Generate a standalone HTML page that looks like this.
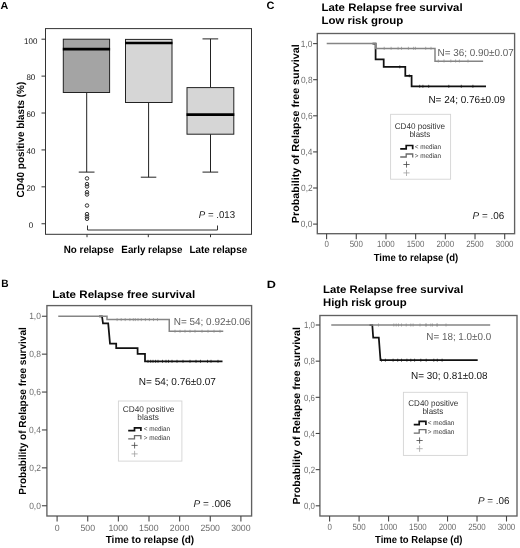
<!DOCTYPE html>
<html><head><meta charset="utf-8"><style>
html,body{margin:0;padding:0;background:#fff;}
svg{display:block;will-change:transform;filter:blur(0.3px);}
svg text{font-family:"Liberation Sans", sans-serif;text-rendering:geometricPrecision;}
</style></head><body>
<svg width="520" height="548" viewBox="0 0 520 548">
<rect x="0" y="0" width="520" height="548" fill="#fff"/>
<text transform="translate(0.53,9) scale(1.0433,1)" font-size="10.3" fill="#000" xml:space="preserve"><tspan font-weight="bold" font-style="normal">A</tspan></text>
<rect x="45.5" y="28.6" width="206" height="205.7" fill="none" stroke="#333" stroke-width="1"/>
<line x1="41.5" y1="39.2" x2="45.5" y2="39.2" stroke="#333" stroke-width="1"/>
<text transform="translate(24.12,43.5) scale(0.9700,1)" font-size="8.2" font-weight="normal" fill="#111">100</text>
<line x1="41.5" y1="76.11" x2="45.5" y2="76.11" stroke="#333" stroke-width="1"/>
<text transform="translate(26.45,80.41) scale(0.9700,1)" font-size="8.2" font-weight="normal" fill="#111">80</text>
<line x1="41.5" y1="113.02" x2="45.5" y2="113.02" stroke="#333" stroke-width="1"/>
<text transform="translate(26.43,117.32) scale(0.9700,1)" font-size="8.2" font-weight="normal" fill="#111">60</text>
<line x1="41.5" y1="149.93" x2="45.5" y2="149.93" stroke="#333" stroke-width="1"/>
<text transform="translate(26.55,154.23) scale(0.9700,1)" font-size="8.2" font-weight="normal" fill="#111">40</text>
<line x1="41.5" y1="186.84" x2="45.5" y2="186.84" stroke="#333" stroke-width="1"/>
<text transform="translate(26.43,191.14) scale(0.9700,1)" font-size="8.2" font-weight="normal" fill="#111">20</text>
<line x1="41.5" y1="223.75" x2="45.5" y2="223.75" stroke="#333" stroke-width="1"/>
<text transform="translate(28.67,228.05) scale(0.9700,1)" font-size="8.2" font-weight="normal" fill="#111">0</text>
<text transform="translate(23.5,197.4) rotate(-90) scale(0.9671,1)" font-size="10.3" fill="#000" xml:space="preserve"><tspan font-weight="bold" font-style="normal">CD40 positive blasts (%)</tspan></text>
<line x1="86.7" y1="92.5" x2="86.7" y2="172.1" stroke="#222" stroke-width="1"/>
<line x1="78.75" y1="172.1" x2="94.5" y2="172.1" stroke="#222" stroke-width="1"/>
<line x1="148.6" y1="102.5" x2="148.6" y2="177.2" stroke="#222" stroke-width="1"/>
<line x1="140.8" y1="177.2" x2="156.3" y2="177.2" stroke="#222" stroke-width="1"/>
<line x1="210.5" y1="38.9" x2="210.5" y2="87.6" stroke="#222" stroke-width="1"/>
<line x1="202.5" y1="38.9" x2="218.2" y2="38.9" stroke="#222" stroke-width="1"/>
<line x1="210.5" y1="134.2" x2="210.5" y2="172.1" stroke="#222" stroke-width="1"/>
<line x1="202.5" y1="172.1" x2="218.2" y2="172.1" stroke="#222" stroke-width="1"/>
<rect x="63.3" y="39.2" width="46.3" height="53.3" fill="#a4a4a4" stroke="#222" stroke-width="1"/>
<line x1="62.8" y1="49.1" x2="110.1" y2="49.1" stroke="#000" stroke-width="2.6"/>
<rect x="125.5" y="39.4" width="46.5" height="63.1" fill="#d6d6d6" stroke="#222" stroke-width="1"/>
<line x1="125" y1="43" x2="172.5" y2="43" stroke="#000" stroke-width="2.6"/>
<rect x="187" y="87.6" width="46.8" height="46.6" fill="#d6d6d6" stroke="#222" stroke-width="1"/>
<line x1="186.5" y1="114.6" x2="234.3" y2="114.6" stroke="#000" stroke-width="2.6"/>
<circle cx="87" cy="178.4" r="1.75" fill="none" stroke="#222" stroke-width="0.9"/>
<circle cx="87" cy="184.1" r="1.75" fill="none" stroke="#222" stroke-width="0.9"/>
<circle cx="87" cy="186.5" r="1.75" fill="none" stroke="#222" stroke-width="0.9"/>
<circle cx="87" cy="192.2" r="1.75" fill="none" stroke="#222" stroke-width="0.9"/>
<circle cx="87" cy="194.5" r="1.75" fill="none" stroke="#222" stroke-width="0.9"/>
<circle cx="87" cy="205.5" r="1.75" fill="none" stroke="#222" stroke-width="0.9"/>
<circle cx="87" cy="214.1" r="1.75" fill="none" stroke="#222" stroke-width="0.9"/>
<circle cx="87" cy="216.5" r="1.75" fill="none" stroke="#222" stroke-width="0.9"/>
<circle cx="87" cy="218.8" r="1.75" fill="none" stroke="#222" stroke-width="0.9"/>
<polyline points="87.5,225.5 87.5,230 217.5,230 217.5,225.5" fill="none" stroke="#333" stroke-width="1" stroke-linejoin="miter" stroke-linecap="butt"/>
<line x1="87" y1="234.3" x2="87" y2="237.2" stroke="#333" stroke-width="1"/>
<line x1="148.3" y1="234.3" x2="148.3" y2="237.2" stroke="#333" stroke-width="1"/>
<line x1="210.5" y1="234.3" x2="210.5" y2="237.2" stroke="#333" stroke-width="1"/>
<text transform="translate(63.76,252.8) scale(0.9443,1)" font-size="10.4" fill="#000" xml:space="preserve"><tspan font-weight="bold" font-style="normal">No relapse</tspan></text>
<text transform="translate(121.36,252.8) scale(0.9435,1)" font-size="10.4" fill="#000" xml:space="preserve"><tspan font-weight="bold" font-style="normal">Early relapse</tspan></text>
<text transform="translate(189.56,252.8) scale(0.9490,1)" font-size="10.4" fill="#000" xml:space="preserve"><tspan font-weight="bold" font-style="normal">Late relapse</tspan></text>
<text transform="translate(198.81,218.3) scale(0.9794,1)" font-size="9.9" fill="#222" xml:space="preserve"><tspan font-weight="normal" font-style="italic">P</tspan><tspan font-weight="normal" font-style="normal"> = .013</tspan></text>
<text transform="translate(1.34,287.2) scale(0.9589,1)" font-size="10.6" fill="#000" xml:space="preserve"><tspan font-weight="bold" font-style="normal">B</tspan></text>
<text transform="translate(52.25,298.4) scale(1.0727,1)" font-size="10.8" fill="#000" xml:space="preserve"><tspan font-weight="bold" font-style="normal">Late Relapse free survival</tspan></text>
<rect x="46.9" y="305.6" width="204.7" height="210.4" fill="none" stroke="#606060" stroke-width="1.35"/>
<line x1="41.9" y1="505.75" x2="46.9" y2="505.75" stroke="#444" stroke-width="1.1"/>
<text transform="translate(29.13,508.95) scale(0.9300,1)" font-size="9.1" font-weight="normal" fill="#6c6c6c">0,0</text>
<line x1="41.9" y1="467.85" x2="46.9" y2="467.85" stroke="#444" stroke-width="1.1"/>
<text transform="translate(29.26,471.05) scale(0.9300,1)" font-size="9.1" font-weight="normal" fill="#6c6c6c">0,2</text>
<line x1="41.9" y1="429.95" x2="46.9" y2="429.95" stroke="#444" stroke-width="1.1"/>
<text transform="translate(29.09,433.15) scale(0.9300,1)" font-size="9.1" font-weight="normal" fill="#6c6c6c">0,4</text>
<line x1="41.9" y1="392.05" x2="46.9" y2="392.05" stroke="#444" stroke-width="1.1"/>
<text transform="translate(29.17,395.25) scale(0.9300,1)" font-size="9.1" font-weight="normal" fill="#6c6c6c">0,6</text>
<line x1="41.9" y1="354.15" x2="46.9" y2="354.15" stroke="#444" stroke-width="1.1"/>
<text transform="translate(29.17,357.35) scale(0.9300,1)" font-size="9.1" font-weight="normal" fill="#6c6c6c">0,8</text>
<line x1="41.9" y1="316.25" x2="46.9" y2="316.25" stroke="#444" stroke-width="1.1"/>
<text transform="translate(29.13,319.45) scale(0.9300,1)" font-size="9.1" font-weight="normal" fill="#6c6c6c">1,0</text>
<line x1="57.1" y1="516" x2="57.1" y2="521.5" stroke="#444" stroke-width="1.1"/>
<text transform="translate(54.65,530.5) scale(0.9600,1)" font-size="9.1" font-weight="normal" fill="#6c6c6c">0</text>
<line x1="87.73" y1="516" x2="87.73" y2="521.5" stroke="#444" stroke-width="1.1"/>
<text transform="translate(80.44,530.5) scale(0.9600,1)" font-size="9.1" font-weight="normal" fill="#6c6c6c">500</text>
<line x1="118.37" y1="516" x2="118.37" y2="521.5" stroke="#444" stroke-width="1.1"/>
<text transform="translate(108.47,530.5) scale(0.9600,1)" font-size="9.1" font-weight="normal" fill="#6c6c6c">1000</text>
<line x1="149" y1="516" x2="149" y2="521.5" stroke="#444" stroke-width="1.1"/>
<text transform="translate(139.11,530.5) scale(0.9600,1)" font-size="9.1" font-weight="normal" fill="#6c6c6c">1500</text>
<line x1="179.63" y1="516" x2="179.63" y2="521.5" stroke="#444" stroke-width="1.1"/>
<text transform="translate(169.85,530.5) scale(0.9600,1)" font-size="9.1" font-weight="normal" fill="#6c6c6c">2000</text>
<line x1="210.27" y1="516" x2="210.27" y2="521.5" stroke="#444" stroke-width="1.1"/>
<text transform="translate(200.48,530.5) scale(0.9600,1)" font-size="9.1" font-weight="normal" fill="#6c6c6c">2500</text>
<line x1="240.9" y1="516" x2="240.9" y2="521.5" stroke="#444" stroke-width="1.1"/>
<text transform="translate(231.16,530.5) scale(0.9600,1)" font-size="9.1" font-weight="normal" fill="#6c6c6c">3000</text>
<text transform="translate(105.7,543.3) scale(0.9681,1)" font-size="10.3" fill="#000" xml:space="preserve"><tspan font-weight="bold" font-style="normal">Time to relapse (d)</tspan></text>
<text transform="translate(25.8,494.65) rotate(-90) scale(0.9756,1)" font-size="10.3" fill="#000" xml:space="preserve"><tspan font-weight="bold" font-style="normal">Probability of Relapse free survival</tspan></text>
<polyline points="99,316.25 102,316.25 103,323.4 108.2,323.4 110,343.6 116.2,343.6 116.2,348 137.6,348 137.6,353.8 145,353.8 145,361.3 222.5,361.3" fill="none" stroke="#111" stroke-width="1.75" stroke-linejoin="miter" stroke-linecap="butt"/>
<line x1="148" y1="359.8" x2="148" y2="362.8" stroke="#111" stroke-width="0.7"/>
<line x1="150.7" y1="359.8" x2="150.7" y2="362.8" stroke="#111" stroke-width="0.7"/>
<line x1="153" y1="359.8" x2="153" y2="362.8" stroke="#111" stroke-width="0.7"/>
<line x1="155.6" y1="359.8" x2="155.6" y2="362.8" stroke="#111" stroke-width="0.7"/>
<line x1="158" y1="359.8" x2="158" y2="362.8" stroke="#111" stroke-width="0.7"/>
<line x1="162.5" y1="359.8" x2="162.5" y2="362.8" stroke="#111" stroke-width="0.7"/>
<line x1="166" y1="359.8" x2="166" y2="362.8" stroke="#111" stroke-width="0.7"/>
<line x1="168.5" y1="359.8" x2="168.5" y2="362.8" stroke="#111" stroke-width="0.7"/>
<line x1="172" y1="359.8" x2="172" y2="362.8" stroke="#111" stroke-width="0.7"/>
<line x1="177" y1="359.8" x2="177" y2="362.8" stroke="#111" stroke-width="0.7"/>
<line x1="183" y1="359.8" x2="183" y2="362.8" stroke="#111" stroke-width="0.7"/>
<line x1="190" y1="359.8" x2="190" y2="362.8" stroke="#111" stroke-width="0.7"/>
<line x1="196" y1="359.8" x2="196" y2="362.8" stroke="#111" stroke-width="0.7"/>
<line x1="200.5" y1="359.8" x2="200.5" y2="362.8" stroke="#111" stroke-width="0.7"/>
<line x1="207.5" y1="359.8" x2="207.5" y2="362.8" stroke="#111" stroke-width="0.7"/>
<line x1="211" y1="359.8" x2="211" y2="362.8" stroke="#111" stroke-width="0.7"/>
<line x1="218" y1="359.8" x2="218" y2="362.8" stroke="#111" stroke-width="0.7"/>
<polyline points="58.25,316.25 107,316.25 107,319.6 169.25,319.6 169.25,331.25 223.25,331.25" fill="none" stroke="#858585" stroke-width="1.5" stroke-linejoin="miter" stroke-linecap="butt"/>
<line x1="117.1" y1="318.1" x2="117.1" y2="321.1" stroke="#8a8a8a" stroke-width="0.7"/>
<line x1="121.2" y1="318.1" x2="121.2" y2="321.1" stroke="#8a8a8a" stroke-width="0.7"/>
<line x1="125.2" y1="318.1" x2="125.2" y2="321.1" stroke="#8a8a8a" stroke-width="0.7"/>
<line x1="129.9" y1="318.1" x2="129.9" y2="321.1" stroke="#8a8a8a" stroke-width="0.7"/>
<line x1="133.3" y1="318.1" x2="133.3" y2="321.1" stroke="#8a8a8a" stroke-width="0.7"/>
<line x1="135.3" y1="318.1" x2="135.3" y2="321.1" stroke="#8a8a8a" stroke-width="0.7"/>
<line x1="138" y1="318.1" x2="138" y2="321.1" stroke="#8a8a8a" stroke-width="0.7"/>
<line x1="141.3" y1="318.1" x2="141.3" y2="321.1" stroke="#8a8a8a" stroke-width="0.7"/>
<line x1="145.4" y1="318.1" x2="145.4" y2="321.1" stroke="#8a8a8a" stroke-width="0.7"/>
<line x1="149.4" y1="318.1" x2="149.4" y2="321.1" stroke="#8a8a8a" stroke-width="0.7"/>
<line x1="153.5" y1="318.1" x2="153.5" y2="321.1" stroke="#8a8a8a" stroke-width="0.7"/>
<line x1="157.5" y1="318.1" x2="157.5" y2="321.1" stroke="#8a8a8a" stroke-width="0.7"/>
<line x1="175" y1="329.75" x2="175" y2="332.75" stroke="#8a8a8a" stroke-width="0.7"/>
<line x1="180" y1="329.75" x2="180" y2="332.75" stroke="#8a8a8a" stroke-width="0.7"/>
<line x1="185" y1="329.75" x2="185" y2="332.75" stroke="#8a8a8a" stroke-width="0.7"/>
<line x1="190" y1="329.75" x2="190" y2="332.75" stroke="#8a8a8a" stroke-width="0.7"/>
<line x1="195" y1="329.75" x2="195" y2="332.75" stroke="#8a8a8a" stroke-width="0.7"/>
<line x1="202" y1="329.75" x2="202" y2="332.75" stroke="#8a8a8a" stroke-width="0.7"/>
<line x1="208" y1="329.75" x2="208" y2="332.75" stroke="#8a8a8a" stroke-width="0.7"/>
<line x1="214" y1="329.75" x2="214" y2="332.75" stroke="#8a8a8a" stroke-width="0.7"/>
<line x1="220" y1="329.75" x2="220" y2="332.75" stroke="#8a8a8a" stroke-width="0.7"/>
<text transform="translate(173.7,325) scale(0.9778,1)" font-size="10.2" fill="#606060" xml:space="preserve"><tspan font-weight="normal" font-style="normal">N= 54; 0.92±0.06</tspan></text>
<text transform="translate(138.8,385) scale(0.9830,1)" font-size="10.2" fill="#111" xml:space="preserve"><tspan font-weight="normal" font-style="normal">N= 54; 0.76±0.07</tspan></text>
<rect x="118.4" y="401" width="63.5" height="60.1" fill="#fff" stroke="#d4d4d4" stroke-width="0.9"/>
<text transform="translate(122.68,412.1) scale(0.9924,1)" font-size="8.4" fill="#333" xml:space="preserve"><tspan font-weight="normal" font-style="normal">CD40 positive</tspan></text>
<text transform="translate(137.36,419.8) scale(0.9865,1)" font-size="8.4" fill="#333" xml:space="preserve"><tspan font-weight="normal" font-style="normal">blasts</tspan></text>
<polyline points="128.2,430.7 134.5,430.7 134.5,427.8 140.9,427.8 140.9,431.1" fill="none" stroke="#111" stroke-width="1.7" stroke-linejoin="miter" stroke-linecap="butt"/>
<polyline points="128.2,438.8 134.5,438.8 134.5,435.7 140.9,435.7 140.9,439.2" fill="none" stroke="#6a6a6a" stroke-width="1.3" stroke-linejoin="miter" stroke-linecap="butt"/>
<text transform="translate(143.68,431.1) scale(0.9390,1)" font-size="6.8" fill="#333" xml:space="preserve"><tspan font-weight="normal" font-style="normal">&lt; median</tspan></text>
<text transform="translate(143.68,439.5) scale(0.9390,1)" font-size="6.8" fill="#333" xml:space="preserve"><tspan font-weight="normal" font-style="normal">&gt; median</tspan></text>
<line x1="131.5" y1="445.4" x2="137.7" y2="445.4" stroke="#444" stroke-width="0.8"/>
<line x1="134.6" y1="442.3" x2="134.6" y2="448.5" stroke="#444" stroke-width="0.8"/>
<line x1="131.5" y1="453.9" x2="137.7" y2="453.9" stroke="#a0a0a0" stroke-width="0.8"/>
<line x1="134.6" y1="450.8" x2="134.6" y2="457" stroke="#a0a0a0" stroke-width="0.8"/>
<text transform="translate(193.5,507) scale(1.0150,1)" font-size="9.9" fill="#222" xml:space="preserve"><tspan font-weight="normal" font-style="italic">P</tspan><tspan font-weight="normal" font-style="normal"> = .006</tspan></text>
<text transform="translate(266.56,8.8) scale(1.0370,1)" font-size="10.6" fill="#000" xml:space="preserve"><tspan font-weight="bold" font-style="normal">C</tspan></text>
<text transform="translate(321.46,10.7) scale(1.0591,1)" font-size="10.8" fill="#000" xml:space="preserve"><tspan font-weight="bold" font-style="normal">Late Relapse free survival</tspan></text>
<text transform="translate(321.46,24.2) scale(1.0571,1)" font-size="10.8" fill="#000" xml:space="preserve"><tspan font-weight="bold" font-style="normal">Low risk group</tspan></text>
<rect x="317.3" y="33.5" width="197.3" height="200.2" fill="none" stroke="#606060" stroke-width="1.35"/>
<line x1="313.1" y1="224.1" x2="317.3" y2="224.1" stroke="#444" stroke-width="1.1"/>
<text transform="translate(300.86,227.3) scale(0.9200,1)" font-size="9.1" font-weight="normal" fill="#6c6c6c">0,0</text>
<line x1="313.1" y1="188" x2="317.3" y2="188" stroke="#444" stroke-width="1.1"/>
<text transform="translate(300.98,191.2) scale(0.9200,1)" font-size="9.1" font-weight="normal" fill="#6c6c6c">0,2</text>
<line x1="313.1" y1="151.9" x2="317.3" y2="151.9" stroke="#444" stroke-width="1.1"/>
<text transform="translate(300.81,155.1) scale(0.9200,1)" font-size="9.1" font-weight="normal" fill="#6c6c6c">0,4</text>
<line x1="313.1" y1="115.8" x2="317.3" y2="115.8" stroke="#444" stroke-width="1.1"/>
<text transform="translate(300.9,119) scale(0.9200,1)" font-size="9.1" font-weight="normal" fill="#6c6c6c">0,6</text>
<line x1="313.1" y1="79.7" x2="317.3" y2="79.7" stroke="#444" stroke-width="1.1"/>
<text transform="translate(300.9,82.9) scale(0.9200,1)" font-size="9.1" font-weight="normal" fill="#6c6c6c">0,8</text>
<line x1="313.1" y1="43.6" x2="317.3" y2="43.6" stroke="#444" stroke-width="1.1"/>
<text transform="translate(300.86,46.8) scale(0.9200,1)" font-size="9.1" font-weight="normal" fill="#6c6c6c">1,0</text>
<line x1="326.6" y1="233.7" x2="326.6" y2="239.2" stroke="#444" stroke-width="1.1"/>
<text transform="translate(324.38,247.2) scale(0.8700,1)" font-size="9.1" font-weight="normal" fill="#6c6c6c">0</text>
<line x1="356.28" y1="233.7" x2="356.28" y2="239.2" stroke="#444" stroke-width="1.1"/>
<text transform="translate(349.67,247.2) scale(0.8700,1)" font-size="9.1" font-weight="normal" fill="#6c6c6c">500</text>
<line x1="385.97" y1="233.7" x2="385.97" y2="239.2" stroke="#444" stroke-width="1.1"/>
<text transform="translate(377,247.2) scale(0.8700,1)" font-size="9.1" font-weight="normal" fill="#6c6c6c">1000</text>
<line x1="415.65" y1="233.7" x2="415.65" y2="239.2" stroke="#444" stroke-width="1.1"/>
<text transform="translate(406.68,247.2) scale(0.8700,1)" font-size="9.1" font-weight="normal" fill="#6c6c6c">1500</text>
<line x1="445.33" y1="233.7" x2="445.33" y2="239.2" stroke="#444" stroke-width="1.1"/>
<text transform="translate(436.47,247.2) scale(0.8700,1)" font-size="9.1" font-weight="normal" fill="#6c6c6c">2000</text>
<line x1="475.02" y1="233.7" x2="475.02" y2="239.2" stroke="#444" stroke-width="1.1"/>
<text transform="translate(466.15,247.2) scale(0.8700,1)" font-size="9.1" font-weight="normal" fill="#6c6c6c">2500</text>
<line x1="504.7" y1="233.7" x2="504.7" y2="239.2" stroke="#444" stroke-width="1.1"/>
<text transform="translate(495.87,247.2) scale(0.8700,1)" font-size="9.1" font-weight="normal" fill="#6c6c6c">3000</text>
<text transform="translate(373.7,260.5) scale(0.9241,1)" font-size="10.3" fill="#000" xml:space="preserve"><tspan font-weight="bold" font-style="normal">Time to relapse (d)</tspan></text>
<text transform="translate(298.5,223.2) rotate(-90) scale(1.0419,1)" font-size="10.3" fill="#000" xml:space="preserve"><tspan font-weight="bold" font-style="normal">Probability of Relapse free survival</tspan></text>
<polyline points="372.5,43.6 375.6,43.6 375.6,59.4 383.7,59.4 383.7,66.9 405.3,66.9 405.3,75.8 411.6,75.8 411.6,86.3 486,86.3" fill="none" stroke="#111" stroke-width="1.75" stroke-linejoin="miter" stroke-linecap="butt"/>
<line x1="399.8" y1="65.4" x2="399.8" y2="68.4" stroke="#111" stroke-width="0.7"/>
<line x1="409.3" y1="74.3" x2="409.3" y2="77.3" stroke="#111" stroke-width="0.7"/>
<line x1="419.7" y1="84.8" x2="419.7" y2="87.8" stroke="#111" stroke-width="0.7"/>
<line x1="422.9" y1="84.8" x2="422.9" y2="87.8" stroke="#111" stroke-width="0.7"/>
<line x1="428.7" y1="84.8" x2="428.7" y2="87.8" stroke="#111" stroke-width="0.7"/>
<line x1="448.8" y1="84.8" x2="448.8" y2="87.8" stroke="#111" stroke-width="0.7"/>
<line x1="461.3" y1="84.8" x2="461.3" y2="87.8" stroke="#111" stroke-width="0.7"/>
<line x1="472.9" y1="84.8" x2="472.9" y2="87.8" stroke="#111" stroke-width="0.7"/>
<polyline points="326.7,43.6 375.6,43.6 375.6,48.6 435,48.6 435,61.2 483.1,61.2" fill="none" stroke="#858585" stroke-width="1.5" stroke-linejoin="miter" stroke-linecap="butt"/>
<line x1="384.2" y1="46.8" x2="384.2" y2="49.8" stroke="#8a8a8a" stroke-width="0.7"/>
<line x1="391.1" y1="46.8" x2="391.1" y2="49.8" stroke="#8a8a8a" stroke-width="0.7"/>
<line x1="398.1" y1="46.8" x2="398.1" y2="49.8" stroke="#8a8a8a" stroke-width="0.7"/>
<line x1="401.5" y1="46.8" x2="401.5" y2="49.8" stroke="#8a8a8a" stroke-width="0.7"/>
<line x1="408.4" y1="46.8" x2="408.4" y2="49.8" stroke="#8a8a8a" stroke-width="0.7"/>
<line x1="413.6" y1="46.8" x2="413.6" y2="49.8" stroke="#8a8a8a" stroke-width="0.7"/>
<line x1="415.4" y1="46.8" x2="415.4" y2="49.8" stroke="#8a8a8a" stroke-width="0.7"/>
<line x1="425.7" y1="46.8" x2="425.7" y2="49.8" stroke="#8a8a8a" stroke-width="0.7"/>
<line x1="431" y1="46.8" x2="431" y2="49.8" stroke="#8a8a8a" stroke-width="0.7"/>
<line x1="438.3" y1="59.5" x2="438.3" y2="62.5" stroke="#8a8a8a" stroke-width="0.7"/>
<line x1="444" y1="59.5" x2="444" y2="62.5" stroke="#8a8a8a" stroke-width="0.7"/>
<line x1="450.8" y1="59.5" x2="450.8" y2="62.5" stroke="#8a8a8a" stroke-width="0.7"/>
<line x1="455.6" y1="59.5" x2="455.6" y2="62.5" stroke="#8a8a8a" stroke-width="0.7"/>
<line x1="459.4" y1="59.5" x2="459.4" y2="62.5" stroke="#8a8a8a" stroke-width="0.7"/>
<line x1="468" y1="59.5" x2="468" y2="62.5" stroke="#8a8a8a" stroke-width="0.7"/>
<text transform="translate(437.51,56) scale(0.9726,1)" font-size="10.2" fill="#606060" xml:space="preserve"><tspan font-weight="normal" font-style="normal">N= 36; 0.90±0.07</tspan></text>
<text transform="translate(428.4,103) scale(0.9772,1)" font-size="10.2" fill="#111" xml:space="preserve"><tspan font-weight="normal" font-style="normal">N= 24; 0.76±0.09</tspan></text>
<rect x="390.6" y="114.3" width="60" height="64.9" fill="#fff" stroke="#d4d4d4" stroke-width="0.9"/>
<text transform="translate(394.69,128.8) scale(0.9671,1)" font-size="8.4" fill="#333" xml:space="preserve"><tspan font-weight="normal" font-style="normal">CD40 positive</tspan></text>
<text transform="translate(409.38,136.9) scale(0.9581,1)" font-size="8.4" fill="#333" xml:space="preserve"><tspan font-weight="normal" font-style="normal">blasts</tspan></text>
<polyline points="400.2,148.8 406.2,148.8 406.2,145.5 412.7,145.5 412.7,149.2" fill="none" stroke="#111" stroke-width="1.7" stroke-linejoin="miter" stroke-linecap="butt"/>
<polyline points="400.2,157 406.2,157 406.2,154 412.7,154 412.7,157.4" fill="none" stroke="#6a6a6a" stroke-width="1.3" stroke-linejoin="miter" stroke-linecap="butt"/>
<text transform="translate(414.78,149.1) scale(0.9353,1)" font-size="6.8" fill="#333" xml:space="preserve"><tspan font-weight="normal" font-style="normal">&lt; median</tspan></text>
<text transform="translate(414.78,157.9) scale(0.9353,1)" font-size="6.8" fill="#333" xml:space="preserve"><tspan font-weight="normal" font-style="normal">&gt; median</tspan></text>
<line x1="403.4" y1="164.5" x2="409.6" y2="164.5" stroke="#444" stroke-width="0.8"/>
<line x1="406.5" y1="161.4" x2="406.5" y2="167.6" stroke="#444" stroke-width="0.8"/>
<line x1="403.4" y1="172.9" x2="409.6" y2="172.9" stroke="#a0a0a0" stroke-width="0.8"/>
<line x1="406.5" y1="169.8" x2="406.5" y2="176" stroke="#a0a0a0" stroke-width="0.8"/>
<text transform="translate(472.6,218.8) scale(1.0014,1)" font-size="9.9" fill="#222" xml:space="preserve"><tspan font-weight="normal" font-style="italic">P</tspan><tspan font-weight="normal" font-style="normal"> = .06</tspan></text>
<text transform="translate(266.68,287.5) scale(1.1965,1)" font-size="10.6" fill="#000" xml:space="preserve"><tspan font-weight="bold" font-style="normal">D</tspan></text>
<text transform="translate(322.96,293.3) scale(1.0538,1)" font-size="10.8" fill="#000" xml:space="preserve"><tspan font-weight="bold" font-style="normal">Late Relapse free survival</tspan></text>
<text transform="translate(322.96,306.3) scale(1.0486,1)" font-size="10.8" fill="#000" xml:space="preserve"><tspan font-weight="bold" font-style="normal">High risk group</tspan></text>
<rect x="319.9" y="315.5" width="197.1" height="200.5" fill="none" stroke="#606060" stroke-width="1.35"/>
<line x1="315.7" y1="505.8" x2="319.9" y2="505.8" stroke="#444" stroke-width="1.1"/>
<text transform="translate(304,509) scale(0.8600,1)" font-size="9.1" font-weight="normal" fill="#6c6c6c">0,0</text>
<line x1="315.7" y1="469.64" x2="319.9" y2="469.64" stroke="#444" stroke-width="1.1"/>
<text transform="translate(304.11,472.84) scale(0.8600,1)" font-size="9.1" font-weight="normal" fill="#6c6c6c">0,2</text>
<line x1="315.7" y1="433.48" x2="319.9" y2="433.48" stroke="#444" stroke-width="1.1"/>
<text transform="translate(303.96,436.68) scale(0.8600,1)" font-size="9.1" font-weight="normal" fill="#6c6c6c">0,4</text>
<line x1="315.7" y1="397.32" x2="319.9" y2="397.32" stroke="#444" stroke-width="1.1"/>
<text transform="translate(304.03,400.52) scale(0.8600,1)" font-size="9.1" font-weight="normal" fill="#6c6c6c">0,6</text>
<line x1="315.7" y1="361.16" x2="319.9" y2="361.16" stroke="#444" stroke-width="1.1"/>
<text transform="translate(304.03,364.36) scale(0.8600,1)" font-size="9.1" font-weight="normal" fill="#6c6c6c">0,8</text>
<line x1="315.7" y1="325" x2="319.9" y2="325" stroke="#444" stroke-width="1.1"/>
<text transform="translate(304,328.2) scale(0.8600,1)" font-size="9.1" font-weight="normal" fill="#6c6c6c">1,0</text>
<line x1="329.6" y1="516" x2="329.6" y2="521.5" stroke="#444" stroke-width="1.1"/>
<text transform="translate(327.38,529.7) scale(0.8700,1)" font-size="9.1" font-weight="normal" fill="#6c6c6c">0</text>
<line x1="359.08" y1="516" x2="359.08" y2="521.5" stroke="#444" stroke-width="1.1"/>
<text transform="translate(352.47,529.7) scale(0.8700,1)" font-size="9.1" font-weight="normal" fill="#6c6c6c">500</text>
<line x1="388.57" y1="516" x2="388.57" y2="521.5" stroke="#444" stroke-width="1.1"/>
<text transform="translate(379.6,529.7) scale(0.8700,1)" font-size="9.1" font-weight="normal" fill="#6c6c6c">1000</text>
<line x1="418.05" y1="516" x2="418.05" y2="521.5" stroke="#444" stroke-width="1.1"/>
<text transform="translate(409.08,529.7) scale(0.8700,1)" font-size="9.1" font-weight="normal" fill="#6c6c6c">1500</text>
<line x1="447.53" y1="516" x2="447.53" y2="521.5" stroke="#444" stroke-width="1.1"/>
<text transform="translate(438.67,529.7) scale(0.8700,1)" font-size="9.1" font-weight="normal" fill="#6c6c6c">2000</text>
<line x1="477.02" y1="516" x2="477.02" y2="521.5" stroke="#444" stroke-width="1.1"/>
<text transform="translate(468.15,529.7) scale(0.8700,1)" font-size="9.1" font-weight="normal" fill="#6c6c6c">2500</text>
<line x1="506.5" y1="516" x2="506.5" y2="521.5" stroke="#444" stroke-width="1.1"/>
<text transform="translate(497.67,529.7) scale(0.8700,1)" font-size="9.1" font-weight="normal" fill="#6c6c6c">3000</text>
<text transform="translate(375.11,542.8) scale(0.9210,1)" font-size="10.3" fill="#000" xml:space="preserve"><tspan font-weight="bold" font-style="normal">Time to Relapse (d)</tspan></text>
<text transform="translate(300.3,504.49) rotate(-90) scale(1.0331,1)" font-size="10.3" fill="#000" xml:space="preserve"><tspan font-weight="bold" font-style="normal">Probability of Relapse free survival</tspan></text>
<polyline points="369.5,325 372.3,325 373.2,337.7 378.8,337.7 380.5,360.2 477.7,360.2" fill="none" stroke="#111" stroke-width="1.75" stroke-linejoin="miter" stroke-linecap="butt"/>
<line x1="381.5" y1="358.7" x2="381.5" y2="361.7" stroke="#111" stroke-width="0.7"/>
<line x1="385.4" y1="358.7" x2="385.4" y2="361.7" stroke="#111" stroke-width="0.7"/>
<line x1="393.1" y1="358.7" x2="393.1" y2="361.7" stroke="#111" stroke-width="0.7"/>
<line x1="397.7" y1="358.7" x2="397.7" y2="361.7" stroke="#111" stroke-width="0.7"/>
<line x1="401.5" y1="358.7" x2="401.5" y2="361.7" stroke="#111" stroke-width="0.7"/>
<line x1="406.9" y1="358.7" x2="406.9" y2="361.7" stroke="#111" stroke-width="0.7"/>
<line x1="410.8" y1="358.7" x2="410.8" y2="361.7" stroke="#111" stroke-width="0.7"/>
<line x1="414.6" y1="358.7" x2="414.6" y2="361.7" stroke="#111" stroke-width="0.7"/>
<line x1="420.8" y1="358.7" x2="420.8" y2="361.7" stroke="#111" stroke-width="0.7"/>
<line x1="426.2" y1="358.7" x2="426.2" y2="361.7" stroke="#111" stroke-width="0.7"/>
<line x1="433.8" y1="358.7" x2="433.8" y2="361.7" stroke="#111" stroke-width="0.7"/>
<line x1="437.3" y1="358.7" x2="437.3" y2="361.7" stroke="#111" stroke-width="0.7"/>
<line x1="442.1" y1="358.7" x2="442.1" y2="361.7" stroke="#111" stroke-width="0.7"/>
<polyline points="331.25,325 490.2,325" fill="none" stroke="#858585" stroke-width="1.5" stroke-linejoin="miter" stroke-linecap="butt"/>
<line x1="378.5" y1="323.5" x2="378.5" y2="326.5" stroke="#8a8a8a" stroke-width="0.7"/>
<line x1="393.8" y1="323.5" x2="393.8" y2="326.5" stroke="#8a8a8a" stroke-width="0.7"/>
<line x1="396.2" y1="323.5" x2="396.2" y2="326.5" stroke="#8a8a8a" stroke-width="0.7"/>
<line x1="398.5" y1="323.5" x2="398.5" y2="326.5" stroke="#8a8a8a" stroke-width="0.7"/>
<line x1="401.5" y1="323.5" x2="401.5" y2="326.5" stroke="#8a8a8a" stroke-width="0.7"/>
<line x1="406.2" y1="323.5" x2="406.2" y2="326.5" stroke="#8a8a8a" stroke-width="0.7"/>
<line x1="410.8" y1="323.5" x2="410.8" y2="326.5" stroke="#8a8a8a" stroke-width="0.7"/>
<line x1="413.1" y1="323.5" x2="413.1" y2="326.5" stroke="#8a8a8a" stroke-width="0.7"/>
<line x1="420" y1="323.5" x2="420" y2="326.5" stroke="#8a8a8a" stroke-width="0.7"/>
<line x1="426.2" y1="323.5" x2="426.2" y2="326.5" stroke="#8a8a8a" stroke-width="0.7"/>
<line x1="430.8" y1="323.5" x2="430.8" y2="326.5" stroke="#8a8a8a" stroke-width="0.7"/>
<line x1="436.9" y1="323.5" x2="436.9" y2="326.5" stroke="#8a8a8a" stroke-width="0.7"/>
<line x1="425.8" y1="323.5" x2="425.8" y2="326.5" stroke="#8a8a8a" stroke-width="0.7"/>
<line x1="432.5" y1="323.5" x2="432.5" y2="326.5" stroke="#8a8a8a" stroke-width="0.7"/>
<line x1="437.3" y1="323.5" x2="437.3" y2="326.5" stroke="#8a8a8a" stroke-width="0.7"/>
<line x1="446" y1="323.5" x2="446" y2="326.5" stroke="#8a8a8a" stroke-width="0.7"/>
<text transform="translate(426.31,339.8) scale(0.9675,1)" font-size="10.2" fill="#606060" xml:space="preserve"><tspan font-weight="normal" font-style="normal">N= 18; 1.0±0.0</tspan></text>
<text transform="translate(411,379.3) scale(0.9765,1)" font-size="10.2" fill="#111" xml:space="preserve"><tspan font-weight="normal" font-style="normal">N= 30; 0.81±0.08</tspan></text>
<rect x="403.4" y="392.3" width="63.9" height="63.1" fill="#fff" stroke="#d4d4d4" stroke-width="0.9"/>
<text transform="translate(408.3,405.5) scale(0.9594,1)" font-size="8.4" fill="#333" xml:space="preserve"><tspan font-weight="normal" font-style="normal">CD40 positive</tspan></text>
<text transform="translate(422.38,413.6) scale(0.9581,1)" font-size="8.4" fill="#333" xml:space="preserve"><tspan font-weight="normal" font-style="normal">blasts</tspan></text>
<polyline points="413.75,424.7 419.2,424.7 419.2,421.3 425.9,421.3 425.9,425.1" fill="none" stroke="#111" stroke-width="1.7" stroke-linejoin="miter" stroke-linecap="butt"/>
<polyline points="413.75,433.2 419.2,433.2 419.2,429.7 425.9,429.7 425.9,433.6" fill="none" stroke="#6a6a6a" stroke-width="1.3" stroke-linejoin="miter" stroke-linecap="butt"/>
<text transform="translate(427.78,425.3) scale(0.9463,1)" font-size="6.8" fill="#333" xml:space="preserve"><tspan font-weight="normal" font-style="normal">&lt; median</tspan></text>
<text transform="translate(427.78,433.6) scale(0.9463,1)" font-size="6.8" fill="#333" xml:space="preserve"><tspan font-weight="normal" font-style="normal">&gt; median</tspan></text>
<line x1="416.5" y1="440.5" x2="422.7" y2="440.5" stroke="#444" stroke-width="0.8"/>
<line x1="419.6" y1="437.4" x2="419.6" y2="443.6" stroke="#444" stroke-width="0.8"/>
<line x1="416.5" y1="448.7" x2="422.7" y2="448.7" stroke="#a0a0a0" stroke-width="0.8"/>
<line x1="419.6" y1="445.6" x2="419.6" y2="451.8" stroke="#a0a0a0" stroke-width="0.8"/>
<text transform="translate(478,504.2) scale(0.9981,1)" font-size="9.9" fill="#222" xml:space="preserve"><tspan font-weight="normal" font-style="italic">P</tspan><tspan font-weight="normal" font-style="normal"> = .06</tspan></text>
</svg>
</body></html>
